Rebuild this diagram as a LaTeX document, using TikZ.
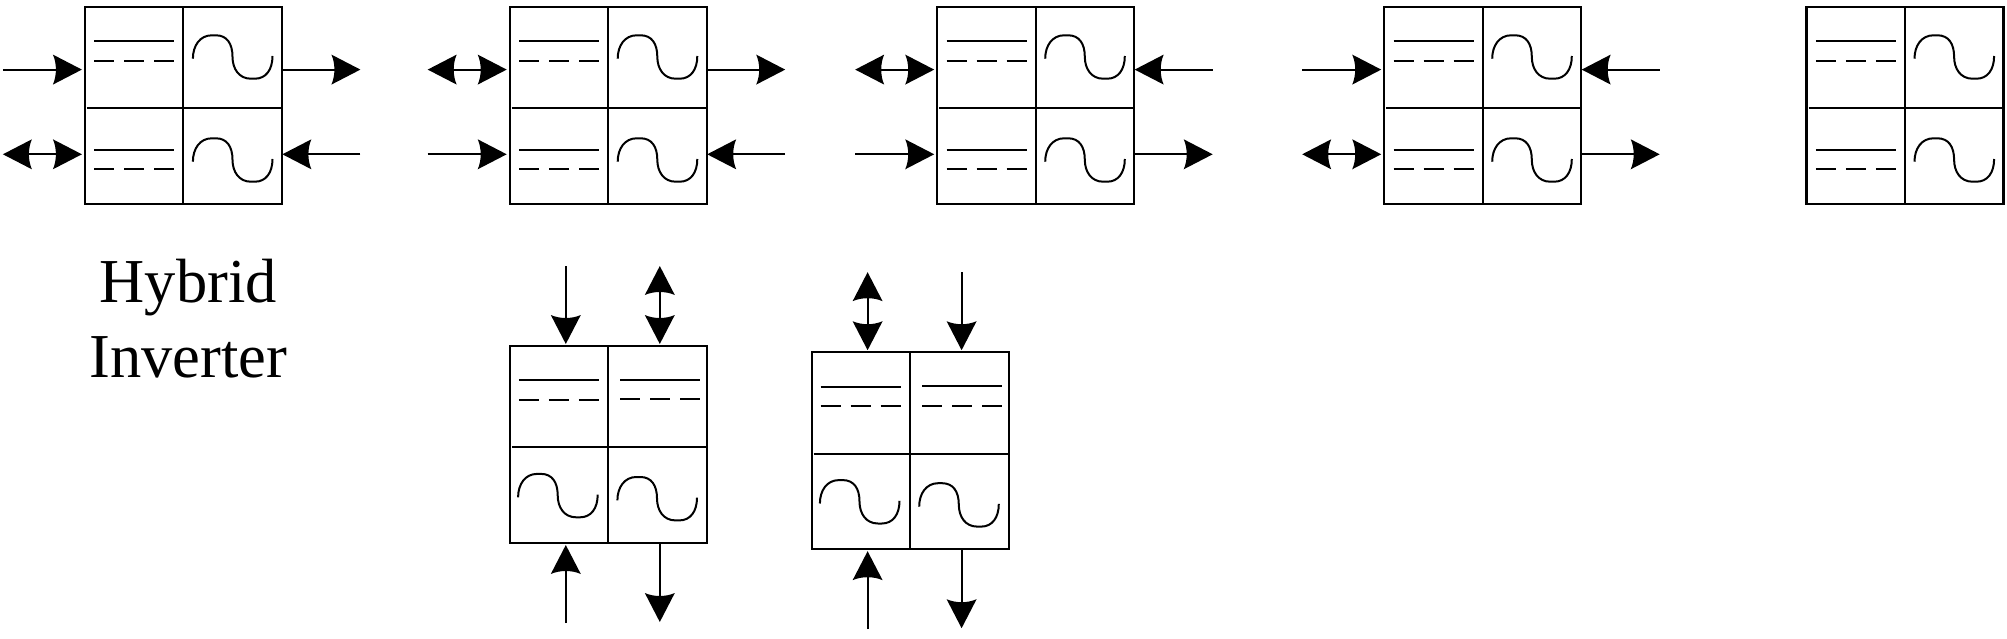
\documentclass[tikz,border=0pt]{standalone}
\usepackage{fontspec}
\setmainfont{Liberation Serif}
\usetikzlibrary{arrows.meta}
\pgfdeclarearrow{
  name=HeadC,
  setup code={%
    \pgfarrowssettipend{0pt}%
    \pgfarrowssetbackend{-29pt}%
    \pgfarrowssetlineend{-20pt}%
    \pgfarrowssetvisualbackend{-25pt}%
    \pgfarrowshullpoint{0pt}{0pt}%
    \pgfarrowshullpoint{-29pt}{15pt}%
    \pgfarrowshullpoint{-29pt}{-15pt}%
  },
  drawing code={%
    \pgfsetlinewidth{0pt}%
    \pgfpathmoveto{\pgfqpoint{0pt}{0pt}}%
    \pgfpathlineto{\pgfqpoint{-29pt}{15pt}}%
    \pgfpathcurveto{\pgfqpoint{-25pt}{6pt}}{\pgfqpoint{-25pt}{-6pt}}{\pgfqpoint{-29pt}{-15pt}}%
    \pgfpathclose
    \pgfusepathqfill
  }
}
\tikzset{
  x=1pt,y=-1pt,
  invframe/.style={draw=black,line width=2.2pt,minimum width=197pt,minimum height=197pt,inner sep=0pt,outer sep=0pt,anchor=north west},
  cellline/.style={line width=2pt,black},
  symline/.style={line width=2pt,black},
  dashline/.style={line width=2pt,black,dash pattern=on 20pt off 10pt},
  waveline/.style={line width=2pt,black},
  onearrow/.style={line width=2pt,-{HeadC}},
  twoarrow/.style={line width=2pt,{HeadC}-{HeadC}},
  titletext/.style={font=\fontsize{62.5}{75}\selectfont,align=center,inner sep=0pt},
}
\newcommand{\dcsym}[2]{%
  \draw[symline] (#1,#2) -- +(80,0);
  \draw[dashline] (#1,#2+19.7) -- +(80,0);
}
\newcommand{\acsym}[2]{%
  \draw[waveline] (#1,#2)
    .. controls (#1,#2-13) and (#1+7,#2-23.4) .. (#1+19,#2-23.4)
    -- (#1+23,#2-23.4)
    .. controls (#1+34,#2-23.4) and (#1+39.6,#2-15) .. (#1+39.6,#2-2)
    .. controls (#1+39.6,#2+10) and (#1+46,#2+20) .. (#1+58,#2+20)
    -- (#1+62,#2+20)
    .. controls (#1+73,#2+20) and (#1+79.6,#2+11) .. (#1+79.6,#2-2.7);
}
\newcommand{\invh}[2]{%
  \begin{scope}[shift={(#2,6.7)}]
    \node[invframe] (#1) at (0,0) {};
    \coordinate (#1-mt) at (98.3,0);
    \coordinate (#1-mb) at (98.3,197);
    \coordinate (#1-ml) at (2,101.3);
    \coordinate (#1-mr) at (197,101.3);
    \draw[cellline] (#1-mt) -- (#1-mb);
    \draw[cellline] (#1-ml) -- (#1-mr);
    \dcsym{9.3}{34.6}
    \dcsym{9.3}{143}
    \acsym{108}{52}
    \acsym{108}{155}
    \coordinate (#1-lu) at (-3,62.9);
    \coordinate (#1-Lu) at (-82,62.9);
    \coordinate (#1-ll) at (-3,147.6);
    \coordinate (#1-Ll) at (-82,147.6);
    \coordinate (#1-ru) at (197.5,62.9);
    \coordinate (#1-Ru) at (275.5,62.9);
    \coordinate (#1-rl) at (197.5,147.6);
    \coordinate (#1-Rl) at (275.5,147.6);
  \end{scope}
}
\newcommand{\invv}[3]{%
  \begin{scope}[shift={(#2,#3)}]
    \node[invframe] (#1) at (0,0) {};
    \coordinate (#1-mt) at (98.3,0);
    \coordinate (#1-mb) at (98.3,197);
    \coordinate (#1-ml) at (2,101.3);
    \coordinate (#1-mr) at (197,101.3);
    \draw[cellline] (#1-mt) -- (#1-mb);
    \draw[cellline] (#1-ml) -- (#1-mr);
    \dcsym{9}{34.3}
    \dcsym{110.4}{33.7}
    \acsym{8.3}{151.3}
    \acsym{107.6}{154.4}
    \coordinate (#1-tl) at (56,-2);
    \coordinate (#1-Tl) at (56,-80);
    \coordinate (#1-tr) at (150,-2);
    \coordinate (#1-Tr) at (150,-80);
    \coordinate (#1-bl) at (56,199);
    \coordinate (#1-Bl) at (56,277);
    \coordinate (#1-br) at (150,197);
    \coordinate (#1-Br) at (150,276);
  \end{scope}
}
\begin{document}
\begin{tikzpicture}
\useasboundingbox (0,0) rectangle (2007,639);
\invh{a}{84.9}
\invh{b}{509.7}
\invh{c}{937.2}
\invh{d}{1384.2}
\invh{e}{1806.5}
\invv{f}{509.8}{346}
\invv{g}{811.6}{352.2}
\node[titletext] (title) at (188.3,319) {Hybrid\\Inverter};
% box a
\draw[onearrow] (a-Lu) -- (a-lu);
\draw[onearrow] (a-ru) -- (a-Ru);
\draw[twoarrow] (a-Ll) -- (a-ll);
\draw[onearrow] (a-Rl) -- (a-rl);
% box b
\draw[twoarrow] (b-Lu) -- (b-lu);
\draw[onearrow] (b-ru) -- (b-Ru);
\draw[onearrow] (b-Ll) -- (b-ll);
\draw[onearrow] (b-Rl) -- (b-rl);
% box c
\draw[twoarrow] (c-Lu) -- (c-lu);
\draw[onearrow] (c-Ru) -- (c-ru);
\draw[onearrow] (c-Ll) -- (c-ll);
\draw[onearrow] (c-rl) -- (c-Rl);
% box d
\draw[onearrow] (d-Lu) -- (d-lu);
\draw[onearrow] (d-Ru) -- (d-ru);
\draw[twoarrow] (d-Ll) -- (d-ll);
\draw[onearrow] (d-rl) -- (d-Rl);
% box f
\draw[onearrow] (f-Tl) -- (f-tl);
\draw[twoarrow] (f-Tr) -- (f-tr);
\draw[onearrow] (f-Bl) -- (f-bl);
\draw[onearrow] (f-br) -- (f-Br);
% box g
\draw[twoarrow] (g-Tl) -- (g-tl);
\draw[onearrow] (g-Tr) -- (g-tr);
\draw[onearrow] (g-Bl) -- (g-bl);
\draw[onearrow] (g-br) -- (g-Br);
\end{tikzpicture}
\end{document}
